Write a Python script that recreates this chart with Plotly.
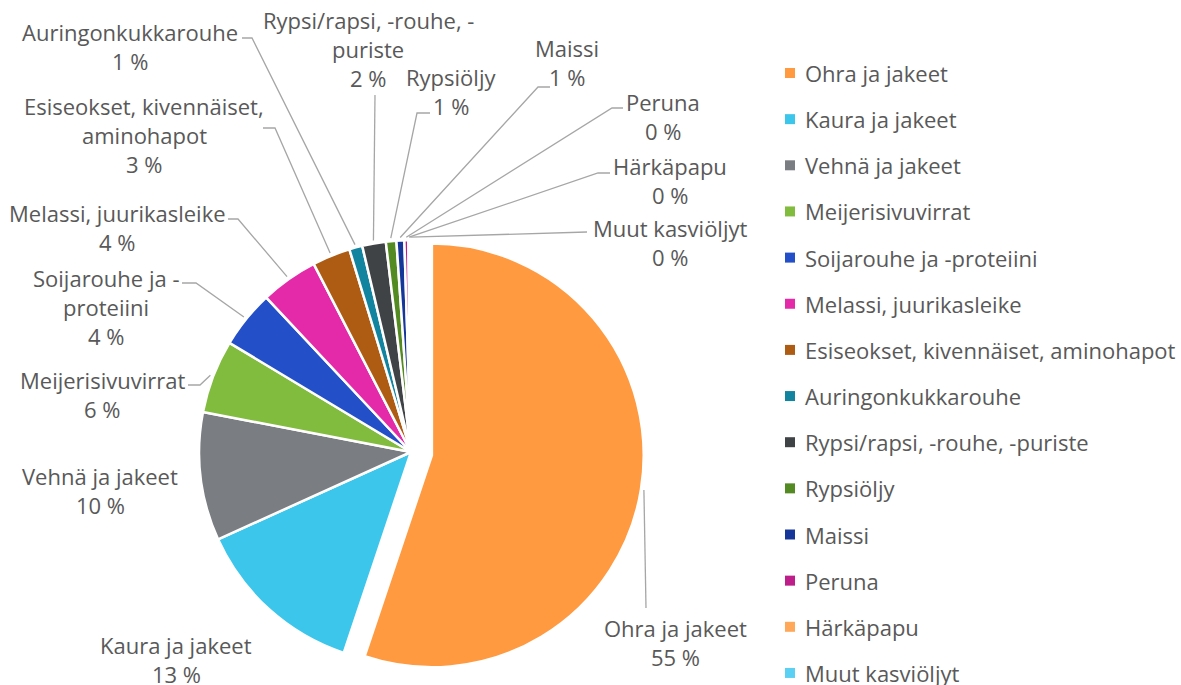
import math
import plotly.graph_objects as go

# ---------------- data ----------------
categories = [
    "Ohra ja jakeet", "Kaura ja jakeet", "Vehnä ja jakeet", "Meijerisivuvirrat",
    "Soijarouhe ja -proteiini", "Melassi, juurikasleike",
    "Esiseokset, kivennäiset, aminohapot", "Auringonkukkarouhe",
    "Rypsi/rapsi, -rouhe, -puriste", "Rypsiöljy", "Maissi", "Peruna",
    "Härkäpapu", "Muut kasviöljyt",
]
values = [55.2, 13.1, 9.8, 5.6, 4.4, 4.4, 2.9, 1.0, 1.8, 0.8, 0.6, 0.3, 0.1, 0.1]

# ---------------- styles ----------------
colors = ["#FF9A40", "#3CC6EC", "#7A7D81", "#82BC3F", "#2350C8", "#E42AA8",
          "#AE5C14", "#13849F", "#404346", "#538A22", "#163699", "#BE1E8A",
          "#FFA85A", "#5CD0F2"]
pulls = [0.1] + [0] * (len(values) - 1)

W, H = 1181, 685
FONT = "Open Sans"
FS = 22
TXT = "#595959"
LINE_COL = "#A6A6A6"
LINE_H = 29

dom_x = [0.1507, 0.5453]
dom_y = [0.0, 0.6803]

# legend layout (pixels)
LEG_MARK_X = 790
LEG_TEXT_X = 803
LEG_Y0 = 73
LEG_STEP = 46.15

# label layout: text centre x, first-line y, break index, leader end, elbow
label_layout = {
    "Ohra ja jakeet": dict(x=675, y=628, brk=None, end=(646, 608), elbow=None),
    "Kaura ja jakeet": dict(x=176, y=645, brk=None, end=None, elbow=None),
    "Vehnä ja jakeet": dict(x=100, y=476, brk=None, end=None, elbow=None),
    "Meijerisivuvirrat": dict(x=102, y=380, brk=None, end=(188, 385), elbow=(200, 385)),
    "Soijarouhe ja -proteiini": dict(x=106, y=278, brk=15, end=(182, 283), elbow=(196, 283)),
    "Melassi, juurikasleike": dict(x=117, y=213, brk=None, end=(228, 219), elbow=(238, 219)),
    "Esiseokset, kivennäiset, aminohapot": dict(x=144, y=106, brk=25, end=(263, 128), elbow=(275, 128)),
    "Auringonkukkarouhe": dict(x=130, y=32, brk=None, end=(242, 38), elbow=(252, 38)),
    "Rypsi/rapsi, -rouhe, -puriste": dict(x=368, y=20, brk=22, end=(375, 95), elbow=None),
    "Rypsiöljy": dict(x=451, y=77, brk=None, end=(430, 113), elbow=(417, 113)),
    "Maissi": dict(x=567, y=48, brk=None, end=(550, 87), elbow=(538, 87)),
    "Peruna": dict(x=663, y=102, brk=None, end=(623, 108), elbow=(612, 108)),
    "Härkäpapu": dict(x=670, y=166, brk=None, end=(610, 173), elbow=(598, 173)),
    "Muut kasviöljyt": dict(x=670, y=228, brk=None, end=(587, 232), elbow=(575, 232)),
}

fig = go.Figure()

fig.add_trace(go.Pie(
    labels=categories, values=values, sort=False, direction="clockwise",
    rotation=0, pull=pulls, textinfo="none", showlegend=False,
    marker=dict(colors=colors, line=dict(color="white", width=2.5)),
    domain=dict(x=dom_x, y=dom_y),
))

# pie geometry (same rules plotly uses)
rx = W * (dom_x[1] - dom_x[0]) / 2
ry = H * (dom_y[1] - dom_y[0]) / 2
r = min(rx, ry) / (1 + max(pulls))
cx = W * (dom_x[0] + dom_x[1]) / 2
cy = H * (1 - (dom_y[0] + dom_y[1]) / 2)
total = sum(values)

lx, ly = [], []
annotations = []
cum = 0.0
for cat, v, p in zip(categories, values, pulls):
    theta = 2 * math.pi * (cum + v / 2) / total
    cum += v
    rr = r * (1 + p) + 3
    ax_, ay_ = cx + rr * math.sin(theta), cy - rr * math.cos(theta)
    L = label_layout[cat]
    if L["end"] is not None:
        pts = [(ax_, ay_)]
        if L["elbow"] is not None:
            pts.append(L["elbow"])
        pts.append(L["end"])
        for (px, py) in pts:
            lx.append(px)
            ly.append(py)
        lx.append(None)
        ly.append(None)
    if L["brk"]:
        lines = [cat[:L["brk"]].strip(), cat[L["brk"]:].strip()]
    else:
        lines = [cat]
    lines.append(f"{int(v / total * 100 + 0.5)} %")
    for i, t in enumerate(lines):
        annotations.append(dict(
            x=L["x"], y=L["y"] + i * LINE_H, xref="x", yref="y", text=t,
            showarrow=False, xanchor="center", yanchor="middle",
            font=dict(family=FONT, size=FS, color=TXT),
        ))

fig.add_trace(go.Scatter(
    x=lx, y=ly, mode="lines", line=dict(color=LINE_COL, width=1.3),
    showlegend=False, hoverinfo="skip",
))

# legend (drawn from the category list)
leg_y = [LEG_Y0 + i * LEG_STEP for i in range(len(categories))]
fig.add_trace(go.Scatter(
    x=[LEG_MARK_X] * len(categories), y=leg_y, mode="markers",
    marker=dict(symbol="square", size=10, color=colors, line=dict(width=0)),
    showlegend=False, hovertext=categories, hoverinfo="text",
))
for cat, yy in zip(categories, leg_y):
    annotations.append(dict(
        x=LEG_TEXT_X, y=yy, xref="x", yref="y", text=cat, showarrow=False,
        xanchor="left", yanchor="middle",
        font=dict(family=FONT, size=FS, color=TXT),
    ))

fig.update_layout(
    width=W, height=H,
    margin=dict(l=0, r=0, t=0, b=0),
    paper_bgcolor="white", plot_bgcolor="white",
    xaxis=dict(range=[0, W], visible=False, domain=[0, 1], fixedrange=True),
    yaxis=dict(range=[H, 0], visible=False, domain=[0, 1], fixedrange=True),
    annotations=annotations,
    showlegend=False,
    font=dict(family=FONT, color=TXT),
)

fig.write_html("out.html", config={"displayModeBar": False},
               post_script="document.body.style.margin='0';")
